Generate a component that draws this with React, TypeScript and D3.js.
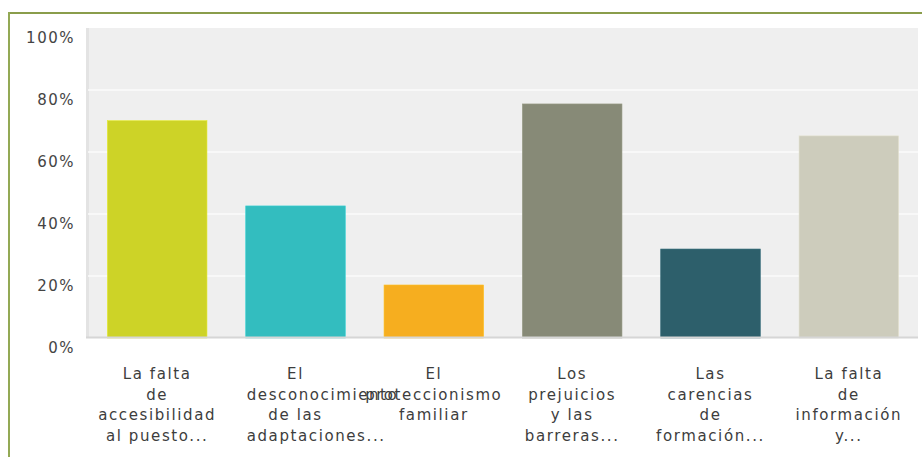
import { useEffect, useRef } from 'react';
import * as d3 from 'd3';

const categories: string[][] = [
  ['La falta', 'de', 'accesibilidad', 'al puesto...'],
  ['El', 'desconocimiento', 'de las', 'adaptaciones...'],
  ['El', 'proteccionismo', 'familiar'],
  ['Los', 'prejuicios', 'y las', 'barreras...'],
  ['Las', 'carencias', 'de', 'formación...'],
  ['La falta', 'de', 'información', 'y...'],
];
const values = [70.1, 42.6, 17.1, 75.5, 28.7, 65.2];
const barColors = ['#cdd327', '#33bdbf', '#f6ae1f', '#878a77', '#2d5f6b', '#cdccbc'];
const yTicks = [0, 20, 40, 60, 80, 100];

const W = 922;
const H = 457;
const plot = { left: 88, right: 918, top: 28, bottom: 338 };
const font = '"DejaVu Sans", Verdana, sans-serif';

export default function App() {
  const labelsRef = useRef<SVGGElement | null>(null);

  const x = d3
    .scaleBand<number>()
    .domain(d3.range(values.length))
    .range([plot.left, plot.right])
    .paddingInner(0.28)
    .paddingOuter(0.14);
  const y = d3.scaleLinear().domain([0, 100]).range([plot.bottom, plot.top]);

  // words wider than the column overflow to the right, like html text does
  useEffect(() => {
    if (!labelsRef.current) return;
    d3.select(labelsRef.current)
      .selectAll<SVGTSpanElement, unknown>('tspan')
      .each(function () {
        const i = +(this.getAttribute('data-i') || 0);
        if (this.getComputedTextLength() > x.step()) {
          d3.select(this).attr('text-anchor', 'start').attr('x', x(i)! + 1);
        }
      });
  }, []);

  return (
    <svg width={W} height={H} style={{ position: 'absolute', left: 0, top: 0 }}>
      <rect x={0} y={0} width={W} height={H} fill="#ffffff" />
      {/* frame */}
      <line x1={9} x2={W} y1={13} y2={13} stroke="#8a9d4b" strokeWidth={2} />
      <line x1={9} x2={9} y1={12} y2={H} stroke="#93a955" strokeWidth={2} />

      {/* plot background */}
      <rect x={plot.left} y={plot.top} width={plot.right - plot.left} height={plot.bottom - plot.top} fill="#efefef" />
      <rect x={plot.left - 2} y={plot.top} width={3} height={plot.bottom - plot.top} fill="#e3e3e3" />

      {/* gridlines */}
      {yTicks.slice(1, -1).map(t => (
        <line key={t} x1={plot.left} x2={plot.right} y1={y(t)} y2={y(t)} stroke="#fbfbfb" strokeWidth={1.5} />
      ))}

      {/* bars */}
      {values.map((v, i) => (
        <rect
          key={i}
          x={x(i)!}
          y={y(v)}
          width={x.bandwidth()}
          height={y(0) - y(v)}
          fill={barColors[i]}
          stroke={d3.color(barColors[i])!.brighter(0.3).toString()}
          strokeWidth={0.6}
        />
      ))}

      {/* baseline */}
      <line x1={plot.left - 2} x2={plot.right} y1={plot.bottom - 0.5} y2={plot.bottom - 0.5} stroke="#d6d6d6" strokeWidth={2} />

      {/* y tick labels */}
      {yTicks.map(t => (
        <text
          key={t}
          x={75}
          y={y(t) + 15}
          textAnchor="end"
          fontFamily={font}
          fontSize={15}
          letterSpacing={1.5}
          fill="#444"
        >
          {t}%
        </text>
      ))}

      {/* category labels */}
      <g ref={labelsRef}>
        {categories.map((lines, i) => (
          <text
            key={i}
            textAnchor="middle"
            fontFamily={font}
            fontSize={15}
            letterSpacing={1.6}
            fill="#3d3d3d"
          >
            {lines.map((l, j) => (
              <tspan key={j} data-i={i} x={x(i)! + x.bandwidth() / 2} y={379 + j * 20.5}>
                {l}
              </tspan>
            ))}
          </text>
        ))}
      </g>
    </svg>
  );
}
